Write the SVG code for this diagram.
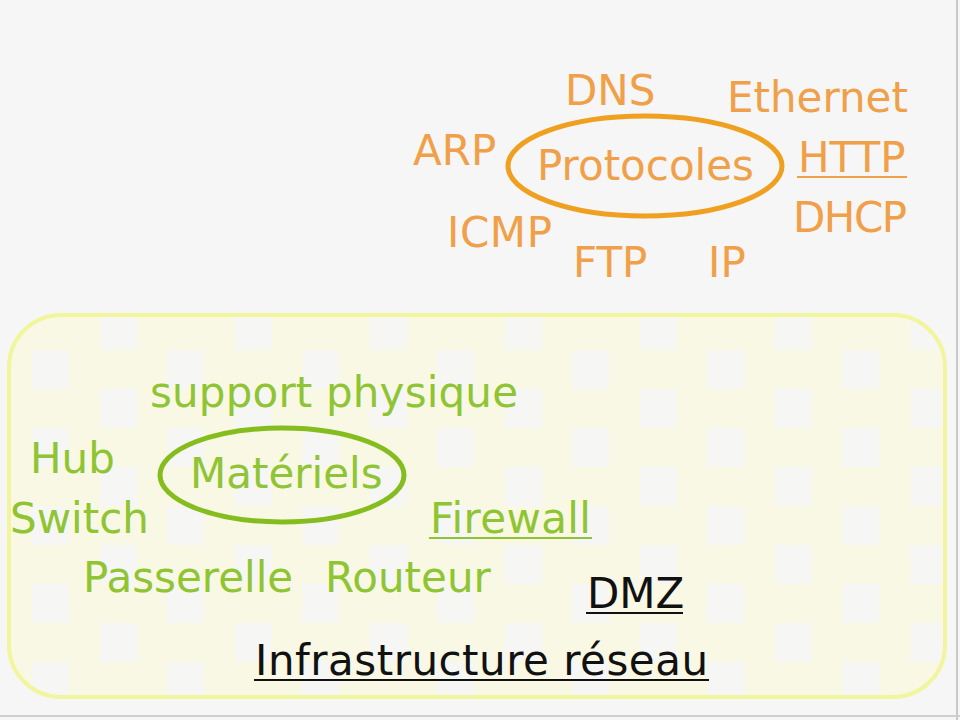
<svg xmlns="http://www.w3.org/2000/svg" width="960" height="720" viewBox="0 0 960 720">
<defs>
<pattern id="chk" x="32" y="350" width="135" height="78" patternUnits="userSpaceOnUse">
<rect width="135" height="78" fill="#f8f8e5"/>
<rect x="0" y="0" width="37" height="39" fill="#f6f6f4"/>
<rect x="68" y="39" width="37" height="39" fill="#f6f6f4"/>
</pattern>
<style>
.t{font-family:"DejaVu Sans","Verdana",sans-serif;font-size:42px}
.o{fill:#f0a048}
.g{fill:#8fc432}
.k{fill:#111}
.ul{stroke-width:2}
</style>
</defs>
<rect width="960" height="720" fill="#f6f6f6"/>
<line x1="957" y1="0" x2="957" y2="720" stroke="#c8c8c8" stroke-width="2"/>
<line x1="0" y1="716" x2="960" y2="716" stroke="#d0d0d0" stroke-width="2"/>
<g id="infrastructure">
<rect x="9" y="315" width="936" height="382" rx="52" ry="52" fill="url(#chk)" stroke="#f1f59c" stroke-width="4"/>
</g>
<g id="protocoles">
<ellipse cx="645" cy="166" rx="137" ry="50" fill="none" stroke="#f0a020" stroke-width="5"/>
<text class="t o" x="537" y="180">Protocoles</text>
</g>
<g id="dns"><text class="t o" x="565" y="105">DNS</text></g>
<g id="ethernet"><text class="t o" x="727" y="112">Ethernet</text></g>
<g id="arp"><text class="t o" x="413" y="165">ARP</text></g>
<g id="http"><text class="t o" x="798" y="172">HTTP</text><line x1="797" y1="177" x2="907" y2="177" stroke="#f0a048" class="ul"/></g>
<g id="dhcp"><text class="t o" x="793" y="232" textLength="114">DHCP</text></g>
<g id="icmp"><text class="t o" x="447" y="247" textLength="105">ICMP</text></g>
<g id="ftp"><text class="t o" x="573" y="277">FTP</text></g>
<g id="ip"><text class="t o" x="708" y="277">IP</text></g>
<g id="materiels">
<ellipse cx="282" cy="475" rx="122" ry="47" fill="none" stroke="#86bd1e" stroke-width="5"/>
<text class="t g" x="190" y="488">Matériels</text>
</g>
<g id="support"><text class="t g" x="150" y="407" textLength="368">support physique</text></g>
<g id="hub"><text class="t g" x="30" y="473">Hub</text></g>
<g id="switch"><text class="t g" x="10" y="533">Switch</text></g>
<g id="firewall"><text class="t g" x="430" y="533" textLength="161">Firewall</text><line x1="429" y1="538" x2="592" y2="538" stroke="#8fc432" class="ul"/></g>
<g id="passerelle"><text class="t g" x="83" y="592">Passerelle</text></g>
<g id="routeur"><text class="t g" x="325" y="592">Routeur</text></g>
<g id="dmz"><text class="t k" x="587" y="608">DMZ</text><line x1="586" y1="613" x2="683" y2="613" stroke="#111" class="ul"/></g>
<g id="infra-label"><text class="t k" x="255" y="675" textLength="453">Infrastructure réseau</text><line x1="254" y1="680" x2="709" y2="680" stroke="#111" class="ul"/></g>
<g id="connectors"></g>
</svg>
